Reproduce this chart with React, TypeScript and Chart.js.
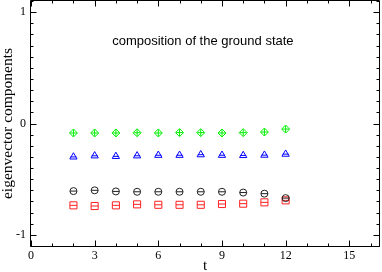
import React, { useEffect, useRef } from "react";
import { Chart, registerables } from "chart.js";

Chart.register(...registerables);

const tValues = [2, 3, 4, 5, 6, 7, 8, 9, 10, 11, 12];
const greenDiamonds = [-0.085, -0.085, -0.085, -0.083, -0.085, -0.082, -0.082, -0.085, -0.082, -0.077, -0.05];
const blueTriangles = [-0.3, -0.29, -0.295, -0.29, -0.285, -0.285, -0.28, -0.285, -0.287, -0.284, -0.275];
const blackCircles = [-0.607, -0.6, -0.61, -0.613, -0.613, -0.613, -0.613, -0.613, -0.62, -0.63, -0.67];
const redSquares = [-0.735, -0.741, -0.735, -0.726, -0.73, -0.73, -0.73, -0.723, -0.72, -0.708, -0.69];

const xTickLabels = [0, 3, 6, 9, 12, 15];
const yTickLabels = [-1, 0, 1];

const titleText = "composition of the ground state";
const xTitle = "t";
const yTitle = "eigenvector components";

const SERIF = '"Liberation Serif", "DejaVu Serif", serif';
const SANS = '"Liberation Sans", Arial, sans-serif';

function pts(ys: number[]) {
  return tValues.map((t, i) => ({ x: t, y: ys[i] }));
}

const framePlugin = {
  id: "frameTicks",
  afterDraw(chart: any) {
    const { ctx, chartArea: a, scales } = chart;
    const xs = scales.x;
    const ys = scales.y;
    ctx.save();
    ctx.strokeStyle = "#000";
    ctx.lineWidth = 1;
    const L = Math.round(a.left) - 0.5;
    const R = Math.round(a.right) + 0.5;
    const T = Math.round(a.top) - 0.5;
    const B = Math.round(a.bottom) + 0.5;
    ctx.beginPath();
    ctx.moveTo(L, T);
    ctx.lineTo(R, T);
    ctx.lineTo(R, B);
    ctx.lineTo(L, B);
    ctx.closePath();
    ctx.stroke();
    ctx.beginPath();
    for (let v = Math.ceil(xs.min); v <= xs.max; v += 1) {
      const px = Math.round(xs.getPixelForValue(v)) + 0.5;
      const len = v % 3 === 0 ? 6 : 3;
      ctx.moveTo(px, B);
      ctx.lineTo(px, B - len);
      ctx.moveTo(px, T);
      ctx.lineTo(px, T + len);
    }
    for (let k = Math.ceil(ys.min * 10); k <= Math.floor(ys.max * 10); k++) {
      const py = Math.round(ys.getPixelForValue(k / 10)) + 0.5;
      const len = k % 10 === 0 ? 6 : 3;
      ctx.moveTo(L, py);
      ctx.lineTo(L + len, py);
      ctx.moveTo(R, py);
      ctx.lineTo(R - len, py);
    }
    ctx.stroke();
    ctx.fillStyle = "#000";
    ctx.font = `13px ${SANS}`;
    ctx.textAlign = "center";
    ctx.textBaseline = "middle";
    ctx.fillText(titleText, xs.getPixelForValue(8.1), ys.getPixelForValue(0.735));
    ctx.restore();
  },
};

export default function App() {
  const ref = useRef<HTMLCanvasElement | null>(null);
  useEffect(() => {
    document.body.style.margin = "0";
    const canvas = ref.current!;
    const mk = (label: string, data: number[], color: string, style: any, r: number) => ({
      label,
      data: pts(data),
      showLine: false,
      pointStyle: style,
      pointRadius: r,
      pointBorderColor: color,
      pointBackgroundColor: "rgba(0,0,0,0)",
      pointBorderWidth: 1,
      borderColor: color,
      backgroundColor: "rgba(0,0,0,0)",
    });
    const chart = new Chart(canvas, {
      type: "scatter",
      data: {
        datasets: [
          mk("green", greenDiamonds, "#00ee00", "rectRot", 4),
          mk("green bar", greenDiamonds, "#00ee00", "cross", 3.5),
          mk("blue", blueTriangles, "#0000ff", "triangle", 4.2),
          mk("blue bar", blueTriangles, "#0000ff", "line", 3),
          mk("black", blackCircles, "#222222", "circle", 3.5),
          mk("black bar", blackCircles, "#222222", "line", 3.5),
          mk("red", redSquares, "#ff2020", "rect", 5),
          mk("red bar", redSquares, "#ff2020", "line", 3.5),
        ] as any,
      },
      options: {
        animation: false,
        responsive: false,
        maintainAspectRatio: false,
        events: [],
        layout: { autoPadding: false, padding: { top: 1, right: 3, left: 0, bottom: 0 } },
        plugins: { legend: { display: false }, tooltip: { enabled: false } },
        scales: {
          x: {
            type: "linear",
            min: 0,
            max: 16.4,
            afterBuildTicks: (s: any) => {
              s.ticks = xTickLabels.map((v) => ({ value: v }));
            },
            afterFit: (s: any) => {
              s.height = 26;
              s.paddingLeft = 0;
              s.paddingRight = 0;
            },
            grid: { display: false, drawTicks: false },
            border: { display: false },
            ticks: {
              color: "#000",
              font: { family: SERIF, size: 12 },
              padding: 3,
              maxRotation: 0,
              autoSkip: false,
            },
            title: {
              display: true,
              text: xTitle,
              color: "#000",
              font: { family: SERIF, size: 15, lineHeight: 1 },
              padding: { top: 0, bottom: -2 },
            },
          },
          y: {
            type: "linear",
            min: -1.1,
            max: 1.1,
            afterBuildTicks: (s: any) => {
              s.ticks = yTickLabels.map((v) => ({ value: v }));
            },
            afterFit: (s: any) => {
              s.width = 31;
              s.paddingTop = 0;
              s.paddingBottom = 0;
            },
            grid: { display: false, drawTicks: false },
            border: { display: false },
            ticks: {
              color: "#000",
              font: { family: SERIF, size: 12 },
              padding: 5,
              autoSkip: false,
            },
            title: {
              display: true,
              text: yTitle,
              color: "#000",
              font: { family: SERIF, size: 15.5, lineHeight: 1 },
              padding: 0,
            },
          },
        },
      } as any,
      plugins: [framePlugin],
    });
    return () => chart.destroy();
  }, []);
  return (
    <div style={{ width: 382, height: 272 }}>
      <canvas ref={ref} width={382} height={272} style={{ display: "block", width: 382, height: 272 }} />
    </div>
  );
}
